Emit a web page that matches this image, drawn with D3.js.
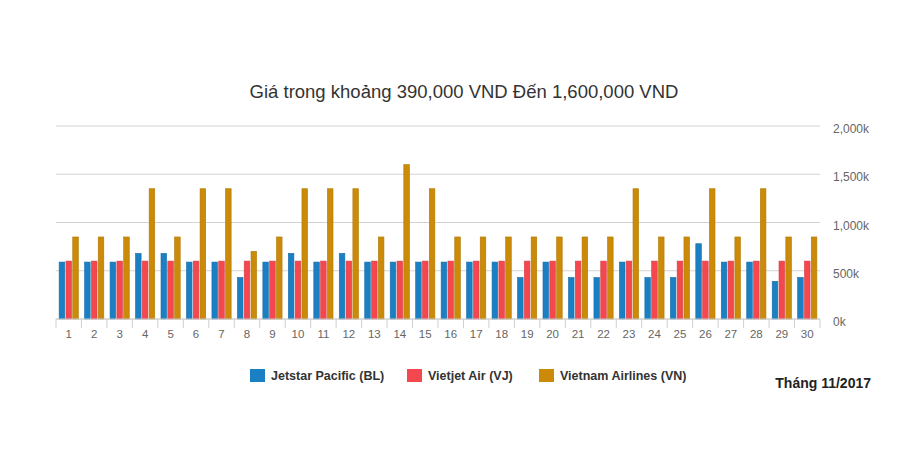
<!DOCTYPE html>
<html>
<head>
<meta charset="utf-8">
<script src="https://cdn.jsdelivr.net/npm/d3@7"></script>
<style>
  body { margin: 0; background: #fff; }
  svg { display: block; font-family: "Liberation Sans", Arial, sans-serif; }
</style>
</head>
<body>
<div id="chart"></div>
<script>
// Days of November 2017
const days = d3.range(1, 31).map(String);

const seriesNames = ['Jetstar Pacific (BL)', 'Vietjet Air (VJ)', 'Vietnam Airlines (VN)'];
const seriesColors = ['#1a7fc3', '#f5474e', '#cb8a07'];

// Prices in VND
const jetstar = [590000, 590000, 590000, 680000, 680000, 590000, 590000, 430000, 590000, 680000,
                 590000, 680000, 590000, 590000, 590000, 590000, 590000, 590000, 430000, 590000,
                 430000, 430000, 590000, 430000, 430000, 780000, 590000, 590000, 390000, 430000];
const vietjet = [600000, 600000, 600000, 600000, 600000, 600000, 600000, 600000, 600000, 600000,
                 600000, 600000, 600000, 600000, 600000, 600000, 600000, 600000, 600000, 600000,
                 600000, 600000, 600000, 600000, 600000, 600000, 600000, 600000, 600000, 600000];
const vietnamAirlines = [850000, 850000, 850000, 1350000, 850000, 1350000, 1350000, 700000, 850000, 1350000,
                 1350000, 1350000, 850000, 1600000, 1350000, 850000, 850000, 850000, 850000, 850000,
                 850000, 850000, 1350000, 850000, 850000, 1350000, 850000, 1350000, 850000, 850000];

const yTicks = [0, 500000, 1000000, 1500000, 2000000];

const titleText = 'Giá trong khoảng 390,000 VND Đến 1,600,000 VND';
const monthText = 'Tháng 11/2017';

const config = {
  width: 900,
  height: 471,
  margin: {top: 126, right: 80, bottom: 152, left: 56}
};

const svg = d3.select('#chart').append('svg')
    .attr('width', config.width)
    .attr('height', config.height);

const innerW = config.width - config.margin.left - config.margin.right;
const innerH = config.height - config.margin.top - config.margin.bottom;

const chart = svg.append('g')
    .attr('transform', `translate(${config.margin.left},${config.margin.top})`);

// Scales
const xScale = d3.scaleBand().domain(days).range([0, innerW]);
const xSeries = d3.scaleBand().domain(d3.range(3))
    .range([0, xScale.bandwidth()])
    .paddingInner(0.18)
    .paddingOuter(0.46);
const yScale = d3.scaleLinear().domain([0, 2000000]).range([innerH, 0]);

// Gridlines
chart.append('g')
  .selectAll('line')
  .data(yTicks)
  .join('line')
    .attr('x1', 0)
    .attr('x2', innerW)
    .attr('y1', d => yScale(d))
    .attr('y2', d => yScale(d))
    .attr('stroke', '#d3d3d3')
    .attr('stroke-width', 1);

// Bars
const data = days.map((d, i) => ({day: d, values: [jetstar[i], vietjet[i], vietnamAirlines[i]]}));

const groups = chart.selectAll('.day')
    .data(data)
  .join('g')
    .attr('class', 'day')
    .attr('transform', d => `translate(${xScale(d.day)},0)`);

groups.selectAll('rect')
    .data(d => d.values.map((v, k) => ({k, v})))
  .join('rect')
    .attr('x', d => xSeries(d.k))
    .attr('width', xSeries.bandwidth())
    .attr('y', d => yScale(d.v))
    .attr('height', d => innerH - yScale(d.v))
    .attr('fill', d => seriesColors[d.k])
    .attr('stroke', d => d3.color(seriesColors[d.k]).darker(0.4))
    .attr('stroke-width', 0.6);

// X axis: ticks at band boundaries
const xAxis = chart.append('g')
    .attr('transform', `translate(0,${innerH})`);

xAxis.append('line')
    .attr('x1', 0).attr('x2', innerW)
    .attr('stroke', '#cfcfcf');

xAxis.selectAll('.tick-line')
    .data(d3.range(days.length + 1))
  .join('line')
    .attr('class', 'tick-line')
    .attr('x1', i => i * xScale.step())
    .attr('x2', i => i * xScale.step())
    .attr('y1', 0)
    .attr('y2', 9)
    .attr('stroke', '#cfcfcf');

xAxis.selectAll('text')
    .data(days)
  .join('text')
    .attr('x', d => xScale(d) + xScale.bandwidth() / 2)
    .attr('y', 19)
    .attr('text-anchor', 'middle')
    .attr('font-size', 11.5)
    .attr('fill', '#666')
    .text(d => d);

// Y axis labels on the right
chart.append('g')
  .selectAll('text')
  .data(yTicks)
  .join('text')
    .attr('x', innerW + 13)
    .attr('y', d => yScale(d) + 3)
    .attr('dy', '0.35em')
    .attr('font-size', 12)
    .attr('fill', '#666')
    .text(d => d3.format(',')(d / 1000) + 'k');

// Title
svg.append('text')
    .attr('x', 464)
    .attr('y', 98)
    .attr('text-anchor', 'middle')
    .attr('font-size', 18.5)
    .attr('fill', '#333')
    .text(titleText);

// Legend
const legendX = [250, 407, 539];
const legend = svg.append('g')
  .selectAll('g')
  .data(seriesNames)
  .join('g')
    .attr('transform', (d, i) => `translate(${legendX[i]},369)`);

legend.append('rect')
    .attr('width', 15)
    .attr('height', 13)
    .attr('fill', (d, i) => seriesColors[i]);

legend.append('text')
    .attr('x', 21)
    .attr('y', 6.5)
    .attr('dy', '0.35em')
    .attr('font-size', 12.5)
    .attr('font-weight', 'bold')
    .attr('fill', '#333')
    .text(d => d);

svg.append('text')
    .attr('x', 871)
    .attr('y', 383)
    .attr('dy', '0.35em')
    .attr('text-anchor', 'end')
    .attr('font-size', 14)
    .attr('font-weight', 'bold')
    .attr('fill', '#222')
    .text(monthText);
</script>
</body>
</html>
